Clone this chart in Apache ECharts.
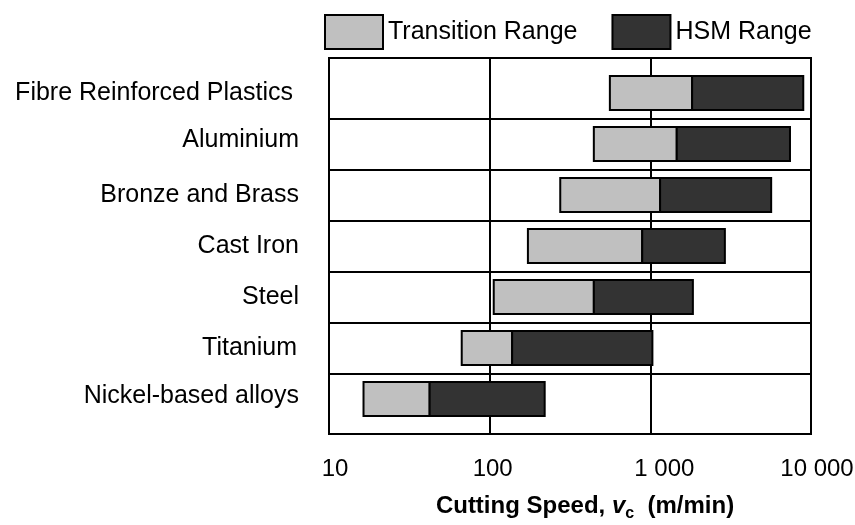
<!DOCTYPE html>
<html>
<head>
<meta charset="utf-8">
<script src="https://cdn.jsdelivr.net/npm/echarts@6/dist/echarts.min.js"></script>
<style>
html,body{margin:0;padding:0;background:#fff;}
#main{width:855px;height:525px;}
</style>
</head>
<body>
<div id="main"></div>
<script>
const categories = ['Fibre Reinforced Plastics','Aluminium','Bronze and Brass','Cast Iron','Steel','Titanium','Nickel-based alloys'];
const transitionStart = [560, 445, 275, 173, 106, 67, 16.4];
const hsmStart = [1820, 1460, 1150, 890, 445, 138, 42.3];
const hsmEnd = [8950, 7400, 5650, 2910, 1840, 1030, 220];
const tickLabels = ['10', '100', '1 000', '10 000'];
const seriesNames = ['Transition Range', 'HSM Range'];

const FONT = '"Liberation Sans", Arial, sans-serif';
const chart = echarts.init(document.getElementById('main'), null, {renderer: 'canvas'});

function rangeItem(params, api, fill) {
  const s = api.coord([api.value(0), api.value(2)]);
  const e = api.coord([api.value(1), api.value(2)]);
  const h = api.size([0, 1])[1] * 0.67;
  return {
    type: 'rect',
    shape: {x: s[0], y: s[1] - h / 2, width: e[0] - s[0], height: h},
    style: {fill: fill, stroke: '#000', lineWidth: 2}
  };
}

const transData = categories.map((c, i) => [transitionStart[i], hsmStart[i], i]);
const hsmData = categories.map((c, i) => [hsmStart[i], hsmEnd[i], i]);

const lab = {fontFamily: FONT, fontSize: 25, color: '#000'};
const tickLab = {fontFamily: FONT, fontSize: 24, color: '#000'};

const option = {
  animation: false,
  backgroundColor: '#fff',
  textStyle: {fontFamily: FONT},
  legend: {
    left: 324, top: 14, padding: 0,
    itemWidth: 58, itemHeight: 34, itemGap: 34,
    icon: 'rect',
    itemStyle: {borderColor: '#000', borderWidth: 2},
    textStyle: {fontFamily: FONT, fontSize: 25, color: '#000', padding: [0, 0, 4, 0]},
    data: seriesNames
  },
  grid: [
    {left: 329, right: 44, top: 67.5, bottom: 100.5, containLabel: false, outerBoundsMode: 'none'},
    {left: 329, right: 44, top: 58, bottom: 91, show: true, borderColor: '#000', borderWidth: 2, backgroundColor: 'transparent', z: 3, containLabel: false, outerBoundsMode: 'none'}
  ],
  xAxis: [
    {
      gridIndex: 0, type: 'log', logBase: 10, min: 10, max: 10000,
      axisLine: {show: false}, axisTick: {show: false}, axisLabel: {show: false}, splitLine: {show: false}
    },
    {
      gridIndex: 1, type: 'log', logBase: 10, min: 10, max: 10000,
      axisLine: {show: false}, axisTick: {show: false},
      splitLine: {show: true, showMinLine: false, showMaxLine: false, lineStyle: {color: '#000', width: 2}},
      axisLabel: {
        margin: 23,
        formatter: function (v) {
          const k = Math.round(Math.log10(v)) - 1;
          return '{t' + k + '|' + tickLabels[k] + '}';
        },
        rich: {
          t0: Object.assign({padding: [0, 0, 0, 12]}, tickLab),
          t1: Object.assign({padding: [0, 0, 0, 6]}, tickLab),
          t2: Object.assign({padding: [0, 0, 0, 28]}, tickLab),
          t3: Object.assign({padding: [0, 0, 0, 12]}, tickLab)
        }
      },
      name: '{b|Cutting Speed, }{v|v}{c|c}{b|  (m/min)}',
      nameLocation: 'middle', nameGap: 56,
      nameTextStyle: {
        padding: [0, 0, 0, 30],
        rich: {
          b: {fontFamily: FONT, fontSize: 24, fontWeight: 'bold', color: '#000'},
          v: {fontFamily: FONT, fontSize: 24, fontWeight: 'bold', fontStyle: 'italic', color: '#000'},
          c: {fontFamily: FONT, fontSize: 16, fontWeight: 'bold', color: '#000', verticalAlign: 'bottom', padding: [16, 0, 0, 0]}
        }
      }
    }
  ],
  yAxis: [
    {
      gridIndex: 0, type: 'category', data: categories, inverse: true,
      axisLine: {show: false}, axisTick: {show: false},
      axisLabel: {
        margin: 30,
        formatter: function (v, i) { return '{r' + i + '|' + v + '}'; },
        rich: {
          r0: Object.assign({padding: [0, 6, 0, 0]}, lab),
          r1: Object.assign({padding: [0, 0, 7, 0]}, lab),
          r2: Object.assign({padding: [0, 0, 0, 0]}, lab),
          r3: Object.assign({padding: [0, 0, 0, 0]}, lab),
          r4: Object.assign({padding: [0, 0, 0, 0]}, lab),
          r5: Object.assign({padding: [0, 2, 0, 0]}, lab),
          r6: Object.assign({padding: [0, 0, 6, 0]}, lab)
        }
      },
      splitLine: {show: true, showMinLine: false, showMaxLine: false, lineStyle: {color: '#000', width: 2}}
    },
    {
      gridIndex: 1, type: 'value', min: 0, max: 1,
      axisLine: {show: false}, axisTick: {show: false}, axisLabel: {show: false}, splitLine: {show: false}
    }
  ],
  series: [
    {
      name: seriesNames[0], type: 'custom', xAxisIndex: 0, yAxisIndex: 0,
      itemStyle: {color: '#c0c0c0'},
      encode: {x: [0, 1], y: 2},
      renderItem: function (p, api) { return rangeItem(p, api, '#c0c0c0'); },
      data: transData, z: 5
    },
    {
      name: seriesNames[1], type: 'custom', xAxisIndex: 0, yAxisIndex: 0,
      itemStyle: {color: '#333333'},
      encode: {x: [0, 1], y: 2},
      renderItem: function (p, api) { return rangeItem(p, api, '#333333'); },
      data: hsmData, z: 5
    }
  ]
};
chart.setOption(option);
</script>
</body>
</html>
